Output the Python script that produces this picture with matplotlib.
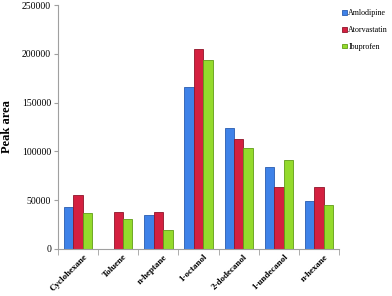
import numpy as np
import matplotlib
matplotlib.use("Agg")
import matplotlib.pyplot as plt

# solvents and peak areas
solvents = ["Cyclohexane", "Toluene", "n-heptane", "1-octanol",
            "2-dodecanol", "1-undecanol", "n-hexane"]
amlodipine = [43000, 0, 35000, 165500, 123500, 84000, 49500]
atorvastatin = [55000, 38000, 37500, 204500, 112500, 63000, 63000]
ibuprofen = [37000, 30500, 19500, 193500, 103500, 91000, 45000]
yticks = [0, 50000, 100000, 150000, 200000, 250000]

plt.rcParams["font.family"] = ["Liberation Serif", "DejaVu Serif"]

fig = plt.figure(figsize=(3.92, 2.96), dpi=100)
ax = fig.add_axes([0.148, 0.159, 0.717, 0.824])

x = np.arange(len(solvents))
w = 0.235
series = [
    ("Amlodipine", amlodipine, "#3f82e8", "#2a5cb0"),
    ("Atorvastatin", atorvastatin, "#d42040", "#901429"),
    ("Ibuprofen", ibuprofen, "#94da2c", "#609c16"),
]
for i, (name, vals, fc, ec) in enumerate(series):
    ax.bar(x + (i - 1) * w, vals, width=w, color=fc, edgecolor=ec,
           linewidth=0.6, label=name)

ax.set_xlim(-0.5, len(solvents) - 0.5)
ax.set_ylim(0, 250000)
ax.set_yticks(yticks)
ax.set_yticklabels([str(v) for v in yticks], fontsize=7)
ax.set_xticks(x + 0.12)
ax.set_xticklabels(solvents, rotation=45, ha="right", rotation_mode="anchor",
                   fontsize=6.5, fontweight="bold")
ax.set_xticks(np.arange(len(solvents) + 1) - 0.5, minor=True)
ax.tick_params(axis="x", which="major", length=0, pad=3)
ax.tick_params(axis="x", which="minor", length=4, color="#a0a0a0")
ax.tick_params(axis="y", length=3, color="#a0a0a0", pad=2)

ax.set_ylabel("Peak area", fontsize=9, fontweight="bold", labelpad=6)

for s in ["top", "right"]:
    ax.spines[s].set_visible(False)
for s in ["left", "bottom"]:
    ax.spines[s].set_color("#a0a0a0")
    ax.spines[s].set_linewidth(0.8)

fig.legend(loc="upper left", bbox_to_anchor=(0.865, 0.98), frameon=False,
           fontsize=5.8, handlelength=0.55, handleheight=0.55,
           handletextpad=0.2, labelspacing=1.1, borderaxespad=0)

fig.savefig("out.png", dpi=100)
